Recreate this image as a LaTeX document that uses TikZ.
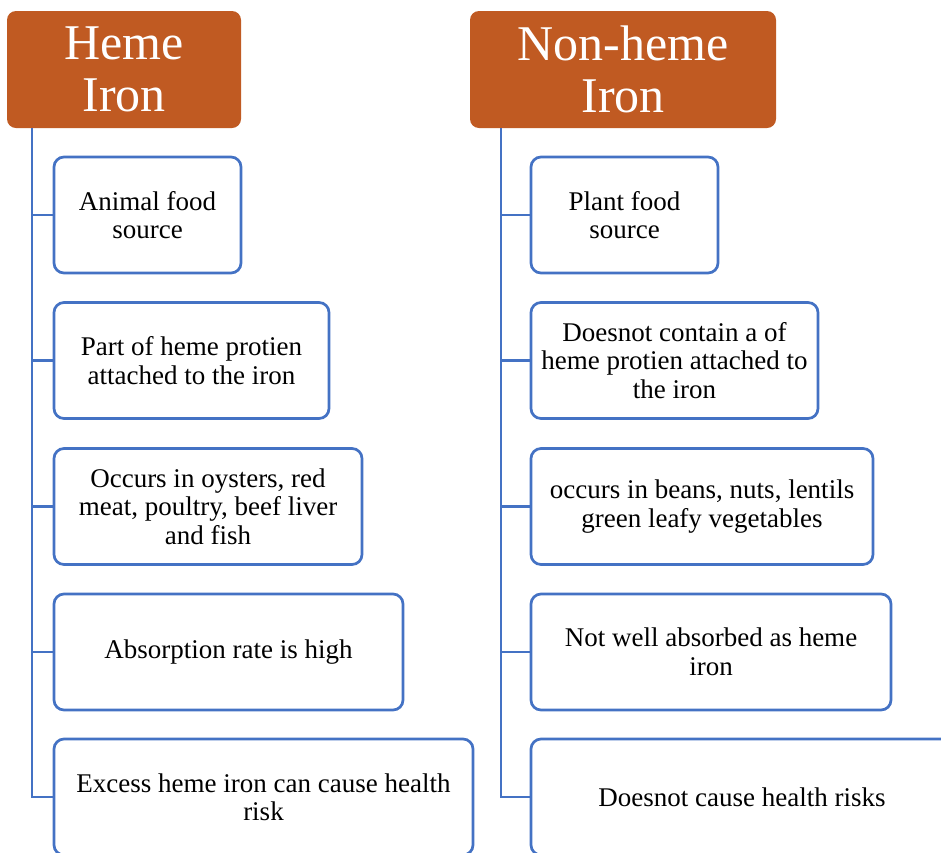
\documentclass[tikz,border=0pt]{standalone}
\usepackage{fontspec}
\setmainfont{Liberation Serif}
\definecolor{hdr}{HTML}{C05A22}
\definecolor{edge}{HTML}{4472C4}
\begin{document}
\begin{tikzpicture}[x=1pt,y=-1pt,
  hbox/.style={draw=none,fill=hdr,rounded corners=9pt,text=white,align=center,
    font=\fontsize{50}{52}\selectfont,inner sep=0pt},
  ibox/.style={draw=edge,line width=2.7pt,fill=white,rounded corners=10pt,align=center,
    font=\fontsize{27}{28.5}\selectfont,inner sep=0pt,minimum height=116pt},
  conn/.style={draw=edge,line width=2.7pt}]
\useasboundingbox (0,0) rectangle (941,852);
\clip (0,0) rectangle (941,852);
\fill[white] (0,0) rectangle (941,852);
% headers
\node[hbox,minimum width=234pt,minimum height=117pt] (h1) at (124,69.5) {Heme\\Iron};
\node[hbox,minimum width=306pt,minimum height=117pt] (h2) at (623,69.5) {Non-heme\\Iron};
% trunk coordinates
\coordinate (t1) at (32,128);
\coordinate (t2) at (501,128);
% left boxes
\node[ibox,minimum width=187pt] (l1) at (147.5,215) {Animal food\\source};
\node[ibox,minimum width=275pt] (l2) at (191.5,360.5) {Part of heme protien\\attached to the iron};
\node[ibox,minimum width=308pt] (l3) at (208,506.5) {Occurs in oysters, red\\meat, poultry, beef liver\\and fish};
\node[ibox,minimum width=349pt] (l4) at (228.5,652) {Absorption rate is high};
\node[ibox,minimum width=419pt] (l5) at (263.5,797) {Excess heme iron can cause health\\risk};
% right boxes
\node[ibox,minimum width=187pt] (r1) at (624.5,215) {Plant food\\source};
\node[ibox,minimum width=287pt] (r2) at (674.5,360.5) {Doesnot contain a of\\heme protien attached to\\the iron};
\node[ibox,minimum width=342pt] (r3) at (702,506.5) {occurs in beans, nuts, lentils\\green leafy vegetables};
\node[ibox,minimum width=360pt] (r4) at (711,652) {Not well absorbed as heme\\iron};
\node[ibox,minimum width=422pt] (r5) at (742,797) {Doesnot cause health risks};
% connectors
\draw[conn] (t1) |- (l5.west);
\foreach \n in {l1,l2,l3,l4} \draw[conn] (t1 |- \n.west) -- (\n.west);
\draw[conn] (t2) |- (r5.west);
\foreach \n in {r1,r2,r3,r4} \draw[conn] (t2 |- \n.west) -- (\n.west);
\end{tikzpicture}
\end{document}
